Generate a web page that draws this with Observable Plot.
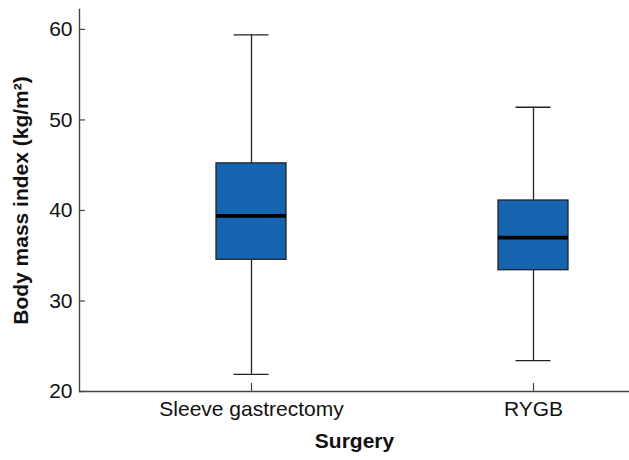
<!DOCTYPE html>
<html>
<head>
<meta charset="utf-8">
<script src="https://cdn.jsdelivr.net/npm/d3@7"></script>
<script src="https://cdn.jsdelivr.net/npm/@observablehq/plot@0.6"></script>
<style>
  html, body { margin: 0; padding: 0; background: #fff; }
  #chart svg { display: block; }
</style>
</head>
<body>
<div id="chart"></div>
<script>
const categories = ["Sleeve gastrectomy", "RYGB"];
const whiskerLow = [21.9, 23.4];
const q1 = [34.55, 33.4];
const medians = [39.4, 37.0];
const q3 = [45.2, 41.1];
const whiskerHigh = [59.4, 51.4];
const yTicks = [20, 30, 40, 50, 60];
const yTitle = "Body mass index (kg/m²)";
const xTitle = "Surgery";

const rows = categories.map((c, i) => ({
  cat: c, lo: whiskerLow[i], q1: q1[i], med: medians[i], q3: q3[i], hi: whiskerHigh[i]
}));

const font = "'Liberation Sans', Arial, sans-serif";
const axisColor = "#444";

const chart = Plot.plot({
  width: 629,
  height: 460,
  marginLeft: 79,
  marginRight: 0,
  marginTop: 9,
  marginBottom: 69,
  style: { fontFamily: font, fontSize: "21px", color: "#111", background: "#fff" },
  x: { type: "band", domain: categories, range: [216, 568], paddingInner: 0.752, paddingOuter: 0 },
  y: { domain: [20, 62.2] },
  marks: [
    Plot.ruleY([20], { stroke: axisColor, strokeWidth: 1.4 }),
    Plot.frame({ anchor: "left", stroke: axisColor, strokeWidth: 1.4 }),
    Plot.axisY({ ticks: yTicks, tickSize: -6, text: null, label: null, stroke: axisColor, strokeWidth: 1.2 }),
    Plot.axisY({ ticks: yTicks, tickSize: 0, tickPadding: 7, label: null, fontSize: 21, fill: "#111" }),
    Plot.axisX({ tickSize: -8, text: null, label: null, stroke: axisColor, strokeWidth: 1.2 }),
    Plot.axisX({ tickSize: 0, tickPadding: 10, label: null, fontSize: 21, fill: "#111" }),
    Plot.ruleX(rows, { x: "cat", y1: "lo", y2: "hi", stroke: "#222", strokeWidth: 1.3 }),
    Plot.tickY(rows, { x: "cat", y: "lo", stroke: "#222", strokeWidth: 1.3, insetLeft: 17.5, insetRight: 17.5 }),
    Plot.tickY(rows, { x: "cat", y: "hi", stroke: "#222", strokeWidth: 1.3, insetLeft: 17.5, insetRight: 17.5 }),
    Plot.barY(rows, { x: "cat", y1: "q1", y2: "q3", fill: "#1565b0", stroke: "#222", strokeWidth: 1.3 }),
    Plot.tickY(rows, { x: "cat", y: "med", stroke: "#000", strokeWidth: 3.8 }),
    Plot.text([yTitle], { frameAnchor: "left", textAnchor: "middle", lineAnchor: "middle", rotate: -90, dx: -58, fontWeight: "bold", fontSize: 21, fill: "#111" }),
    Plot.text([xTitle], { frameAnchor: "bottom", textAnchor: "middle", dy: 56, fontWeight: "bold", fontSize: 21, fill: "#111" })
  ]
});
document.getElementById("chart").appendChild(chart);
</script>
</body>
</html>
